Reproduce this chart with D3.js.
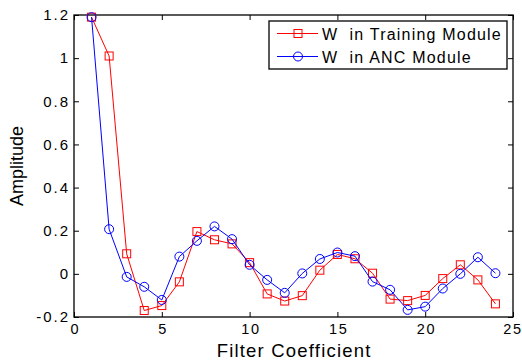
<!DOCTYPE html>
<html>
<head>
<meta charset="utf-8">
<script src="https://cdn.jsdelivr.net/npm/d3@7"></script>
<style>
  body { margin: 0; background: #fff; }
  text { font-family: "Liberation Sans", Arial, sans-serif; fill: #000; }
</style>
</head>
<body>
<svg id="chart" width="522" height="361"></svg>
<script>
const coeffs = d3.range(1, 25);
const trainingW = [1.19, 1.01, 0.093, -0.17, -0.147, -0.037, 0.196, 0.158, 0.139, 0.052,
  -0.093, -0.126, -0.101, 0.017, 0.09, 0.07, 0.003, -0.117, -0.124, -0.1,
  -0.022, 0.042, -0.028, -0.139];
const ancW = [1.19, 0.207, -0.014, -0.06, -0.121, 0.08, 0.153, 0.22, 0.161, 0.042,
  -0.028, -0.088, 0.002, 0.069, 0.099, 0.082, -0.036, -0.074, -0.167, -0.152,
  -0.068, 0.0, 0.077, 0.003];
const xTicks = [0, 5, 10, 15, 20, 25];
const yTicks = [-0.2, 0, 0.2, 0.4, 0.6, 0.8, 1, 1.2];
const seriesNames = ['W  in Training Module', 'W  in ANC Module'];

const svg = d3.select('#chart');
const plotL = 74, plotR = 513, plotT = 15, plotB = 317;

const x = d3.scaleLinear().domain([0, 25]).range([plotL, plotR]);
const y = d3.scaleLinear().domain([-0.2, 1.2]).range([plotB, plotT]);

// axes, ticks pointing inward, box on all sides
const tickLen = 5;
svg.append('g')
    .attr('transform', `translate(0,${plotB})`)
    .call(d3.axisBottom(x).tickValues(xTicks).tickSizeInner(-tickLen).tickSizeOuter(0).tickPadding(7))
    .call(g => g.selectAll('text').attr('font-size', 14.5).attr('dx', d => d === 25 ? '-0.5px' : '0.8px')
      .style('letter-spacing', '1.6px'));
svg.append('g')
    .attr('transform', `translate(0,${plotT})`)
    .call(d3.axisTop(x).tickValues(xTicks).tickSizeInner(-tickLen).tickSizeOuter(0).tickFormat(''));
svg.append('g')
    .attr('transform', `translate(${plotL},0)`)
    .call(d3.axisLeft(y).tickValues(yTicks).tickSizeInner(-tickLen).tickSizeOuter(0).tickPadding(4)
      .tickFormat(d => d === 0 ? '0' : String(+d.toFixed(1))))
    .call(g => g.selectAll('text').attr('font-size', 15).style('letter-spacing', '2px'));
svg.append('g')
    .attr('transform', `translate(${plotR},0)`)
    .call(d3.axisRight(y).tickValues(yTicks).tickSizeInner(-tickLen).tickSizeOuter(0).tickFormat(''));
svg.selectAll('.domain').remove();
svg.selectAll('.tick line').attr('stroke', '#000');
svg.selectAll('.tick text').attr('fill', '#000').attr('font-family', '"Liberation Sans", Arial, sans-serif');

svg.append('rect')
    .attr('x', plotL).attr('y', plotT)
    .attr('width', plotR - plotL).attr('height', plotB - plotT)
    .attr('fill', 'none').attr('stroke', '#000').attr('stroke-width', 1.3);

// labels
svg.append('text')
    .attr('x', (plotL + plotR) / 2 + 0.6).attr('y', 357)
    .attr('text-anchor', 'middle').attr('font-size', 18.5)
    .style('letter-spacing', '1.2px')
    .text('Filter Coefficient');
svg.append('text')
    .attr('transform', `translate(23,${(plotT + plotB) / 2}) rotate(-90)`)
    .attr('text-anchor', 'middle').attr('font-size', 18)
    .text('Amplitude');

const line = d3.line()
    .x((d, i) => x(coeffs[i]))
    .y(d => y(d));

// training series (red squares)
svg.append('path')
    .datum(trainingW)
    .attr('fill', 'none')
    .attr('stroke', '#ff0000')
    .attr('stroke-width', 1)
    .attr('d', line);
svg.append('g').selectAll('rect')
    .data(trainingW)
    .join('rect')
    .attr('x', (d, i) => x(coeffs[i]) - 4)
    .attr('y', d => y(d) - 4)
    .attr('width', 8).attr('height', 8)
    .attr('fill', 'none').attr('stroke', '#ff0000').attr('stroke-width', 1);

// ANC series (blue circles)
svg.append('path')
    .datum(ancW)
    .attr('fill', 'none')
    .attr('stroke', '#0000ff')
    .attr('stroke-width', 1)
    .attr('d', line);
svg.append('g').selectAll('circle')
    .data(ancW)
    .join('circle')
    .attr('cx', (d, i) => x(coeffs[i]))
    .attr('cy', d => y(d))
    .attr('r', 4.5)
    .attr('fill', 'none').attr('stroke', '#0000ff').attr('stroke-width', 1);

// legend
const legend = svg.append('g');
legend.append('rect')
    .attr('x', 269).attr('y', 21)
    .attr('width', 238).attr('height', 48)
    .attr('fill', '#fff').attr('stroke', '#000').attr('stroke-width', 1.3);
const colors = ['#ff0000', '#0000ff'];
seriesNames.forEach((name, i) => {
  const ly = 33.5 + i * 23;
  legend.append('line')
      .attr('x1', 277).attr('x2', 318)
      .attr('y1', ly).attr('y2', ly)
      .attr('stroke', colors[i]);
  if (i === 0) {
    legend.append('rect')
        .attr('x', 294).attr('y', ly - 4).attr('width', 8).attr('height', 8)
        .attr('fill', 'none').attr('stroke', colors[i]);
  } else {
    legend.append('circle')
        .attr('cx', 298).attr('cy', ly).attr('r', 4.5)
        .attr('fill', 'none').attr('stroke', colors[i]);
  }
  legend.append('text')
      .attr('x', 322).attr('y', ly + 6)
      .attr('font-size', 16)
      .style('white-space', 'pre')
      .style('letter-spacing', '1.2px')
      .text(name);
});
</script>
</body>
</html>
